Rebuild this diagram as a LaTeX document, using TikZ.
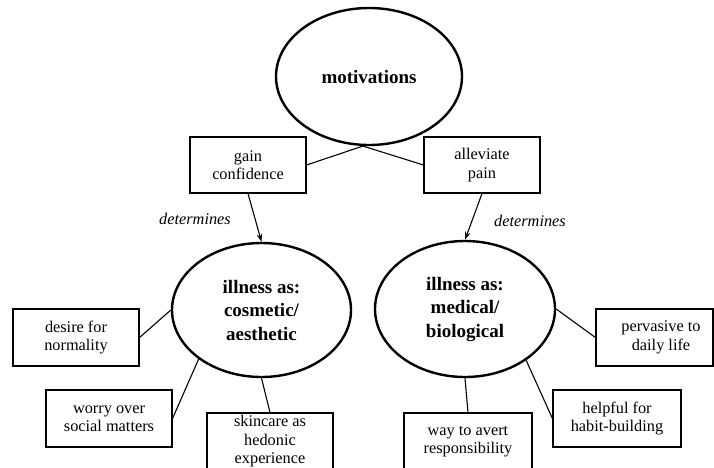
\documentclass[tikz,border=0pt]{standalone}
\usepackage{fontspec}
\newfontfamily\timesfam{Liberation Serif}
\usetikzlibrary{shapes.geometric,arrows.meta}
\begin{document}
\begin{tikzpicture}[x=1pt,y=-1pt,
  oval/.style={ellipse, draw, line width=2.4pt, inner sep=0pt, align=center,
               font=\timesfam\bfseries\fontsize{19}{23.5}\selectfont},
  box/.style={rectangle, draw, line width=1.1pt, inner sep=1pt, align=center,
              minimum height=57pt, font=\timesfam\fontsize{16.3}{18.5}\selectfont},
  link/.style={line width=1.1pt},
  arr/.style={line width=1.1pt, -{Stealth[length=8pt,width=5.5pt]}},
  lbl/.style={inner sep=0pt, font=\timesfam\itshape\fontsize{16.3}{18.5}\selectfont}]

\useasboundingbox (0,0) rectangle (714,467);
\fill[white] (0,0) rectangle (714,467);
\clip (0,0) rectangle (714,467);

% central ellipses
\node[oval, minimum width=186pt, minimum height=137pt] (mot) at (369,76.5) {motivations};
\node[oval, minimum width=179pt, minimum height=134pt] (cos) at (261.5,310)
  {illness as:\\cosmetic/\\aesthetic};
\node[oval, minimum width=180pt, minimum height=136pt] (med) at (465,309)
  {illness as:\\medical/\\biological};

% motivation boxes
\node[box, minimum width=116pt, minimum height=56pt] (gain) at (248,165) {gain\\confidence};
\node[box, minimum width=116pt, minimum height=56pt] (alle) at (482,165) {alleviate\\pain};

% cosmetic side
\node[box, minimum width=126pt] (desire) at (76,337.5) {desire for\\normality};
\node[box, minimum width=126pt] (worry) at (109,418.5) {worry over\\social matters};
\node[box, minimum width=126pt, inner ysep=0pt] (skin) at (270,441.5)
  {skincare as\\hedonic\\experience};

% medical side
\node[box, minimum width=117pt] (perv) at (654.5,337.5)
  {\hspace*{13pt}pervasive to\\\hspace*{13pt}daily life};
\node[box, minimum width=128pt] (help) at (617,418.5) {helpful for\\habit-building};
\node[box, minimum width=128pt] (way) at (468,441.5) {way to avert\\responsibility};

% labels
\node[lbl] (detL) at (195,219) {determines};
\node[lbl] (detR) at (530,221) {determines};

% connectors
\draw[link] (mot.-95) -- (gain.east);
\draw[link] (mot.-95) -- (alle.west);
\draw[arr] (gain.south) -- (cos.north);
\draw[arr] (alle.south) -- (med.north);

\draw[link] (cos.west) -- (desire.east);
\draw[link] (cos.218) -- (worry.east);
\draw[link] (cos.south) -- (skin.north);

\draw[link] (med.east) -- (perv.west);
\draw[link] (med.-40) -- (help.west);
\draw[link] (med.south) -- (way.north);
\end{tikzpicture}
\end{document}
